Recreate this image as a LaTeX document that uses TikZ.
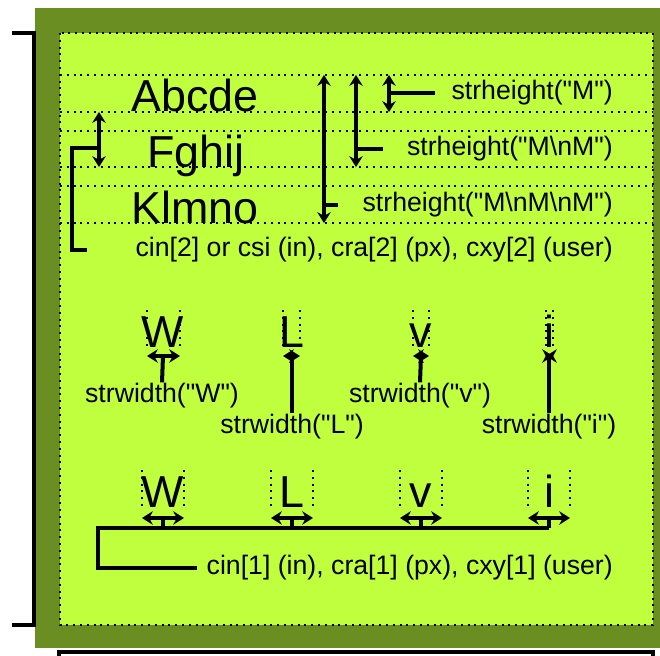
\documentclass[tikz,border=0pt]{standalone}
\usepackage{fontspec}
\setmainfont{Liberation Sans}
\usetikzlibrary{arrows.meta,positioning}
\definecolor{frameolive}{HTML}{6B8E23}
\definecolor{plotgreen}{HTML}{C0FF3E}
\newcommand{\dq}{\textquotedbl}
\tikzset{
  bigtext/.style={inner sep=0pt, font=\fontsize{33.6}{40}\selectfont, text=black},
  note/.style={inner sep=0pt, font=\fontsize{20}{24}\selectfont, text=black},
  guide/.style={draw=black, line width=1.5pt, dash pattern=on 1.5pt off 3.6pt},
  measure/.style={{Stealth[length=8pt,width=10pt,inset=2.5pt]}-{Stealth[length=8pt,width=10pt,inset=2.5pt]}, line width=3pt},
  leader/.style={draw=black, line width=3pt},
}

\begin{document}
\begin{tikzpicture}[x=0.75pt,y=-0.75pt]
  \useasboundingbox (0,0) rectangle (660,656);
  \fill[frameolive] (35,8) rectangle (660,648);
  \fill[plotgreen] (60,33) rectangle (653,625);
  \draw[guide] (60,33) rectangle (653,625);
  \draw[line width=3pt] (12,33) -- (34,33) -- (34,625) -- (12,625);
  \draw[line width=3pt] (59,672) -- (59,652) -- (653,652) -- (653,672);

  % text lines and their guides
  \draw[guide] (60,75) -- (653,75);
  \draw[guide] (60,112) -- (653,112);
  \draw[guide] (60,131) -- (653,131);
  \draw[guide] (60,167) -- (653,167);
  \draw[guide] (60,186) -- (653,186);
  \draw[guide] (60,223) -- (653,223);

  \node[bigtext, anchor=base] (line1) at (195,112) {Abcde};
  \node[bigtext, anchor=base] (line2) at (196,167) {Fghij};
  \node[bigtext, anchor=base] (line3) at (195,223) {Klmno};

  \coordinate (csitop) at (99,112);
  \coordinate (csibot) at (99,167);
  \coordinate (csimid) at (99,148);
  \node[note, anchor=east] (csinote) at (613,250) {cin[2] or csi (in), cra[2] (px), cxy[2] (user)};
  \coordinate (csiend) at (87,250);
  \draw[measure] (csitop) -- (csibot);
  \draw[leader] (csimid) -- (72,148) |- (csiend);

  \coordinate (h3top) at (324,75);
  \coordinate (h3bot) at (324,223);
  \coordinate (h2top) at (356,75);
  \coordinate (h2bot) at (356,167);
  \coordinate (h1top) at (389,75);
  \coordinate (h1bot) at (389,112);
  \node[note, anchor=east] (h1note) at (613,93) {strheight(\dq M\dq)};
  \node[note, anchor=east] (h2note) at (613,149) {strheight(\dq M\textbackslash nM\dq)};
  \node[note, anchor=east] (h3note) at (613,205) {strheight(\dq M\textbackslash nM\textbackslash nM\dq)};
  \draw[measure] (h3top) -- (h3bot);
  \draw[measure] (h2top) -- (h2bot);
  \draw[measure] (h1top) -- (h1bot);
  \draw[leader] (389,93) -- (435,93);
  \draw[leader] (356,149) -- (383,149);
  \draw[leader] (324,205) -- (338,205);

  % single characters and strwidth
  \node[bigtext, anchor=base] (charW) at (163,347) {W};
  \node[bigtext, anchor=base] (charL) at (292,347) {L};
  \node[bigtext, anchor=base] (charv) at (421,347) {v};
  \node[bigtext, anchor=base] (chari) at (549,347) {i};

  \draw[guide] (147,310) -- (147,347);
  \draw[guide] (180,310) -- (180,347);
  \draw[guide] (283,310) -- (283,347);
  \draw[guide] (300,310) -- (300,347);
  \draw[guide] (413,310) -- (413,347);
  \draw[guide] (429,310) -- (429,347);
  \draw[guide] (546,310) -- (546,347);
  \draw[guide] (553,310) -- (553,347);

  \node[note, anchor=base] (wnoteW) at (162,402) {strwidth(\dq W\dq)};
  \node[note, anchor=base] (wnoteL) at (292,433) {strwidth(\dq L\dq)};
  \node[note, anchor=base] (wnotev) at (420,402) {strwidth(\dq v\dq)};
  \node[note, anchor=base] (wnotei) at (549,433) {strwidth(\dq i\dq)};

  \draw[measure] (147,356) -- (180,356);
  \draw[measure] (283,356) -- (300,356);
  \draw[measure] (413,356) -- (429,356);
  \draw[measure] (546,356) -- (553,356);
  \draw[leader] (163,356) -- (wnoteW.north);
  \draw[leader] (292,356) -- (wnoteL.north);
  \draw[leader] (421,356) -- (wnotev.north);
  \draw[leader] (549,356) -- (wnotei.north);

  % character width in the bottom row
  \node[bigtext, anchor=base] (cellW) at (163,507) {W};
  \node[bigtext, anchor=base] (cellL) at (292,507) {L};
  \node[bigtext, anchor=base] (cellv) at (421,507) {v};
  \node[bigtext, anchor=base] (celli) at (549,507) {i};

  \draw[guide] (142,470) -- (142,507);
  \draw[guide] (184,470) -- (184,507);
  \draw[guide] (271,470) -- (271,507);
  \draw[guide] (313,470) -- (313,507);
  \draw[guide] (400,470) -- (400,507);
  \draw[guide] (442,470) -- (442,507);
  \draw[guide] (528,470) -- (528,507);
  \draw[guide] (570,470) -- (570,507);

  \draw[measure] (142,518) -- (184,518);
  \draw[measure] (271,518) -- (313,518);
  \draw[measure] (400,518) -- (442,518);
  \draw[measure] (528,518) -- (570,518);
  \draw[leader] (163,518) -- (163,528);
  \draw[leader] (292,518) -- (292,528);
  \draw[leader] (421,518) -- (421,528);
  \draw[leader] (549,518) -- (549,528);

  \node[note, anchor=east] (cinnote) at (613,568) {cin[1] (in), cra[1] (px), cxy[1] (user)};
  \coordinate (cinend) at (197,568);
  \draw[leader] (549,528) -- (98,528) |- (cinend);
\end{tikzpicture}
\end{document}
